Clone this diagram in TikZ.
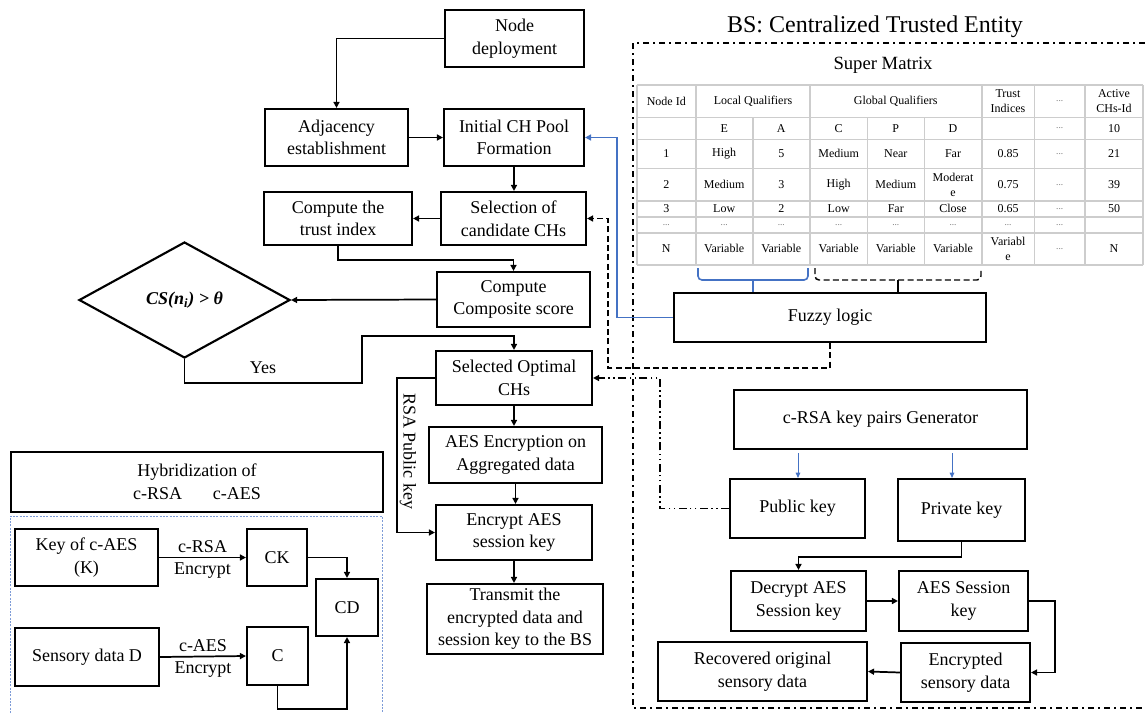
\documentclass[tikz,border=0pt]{standalone}
\usepackage{fontspec}
\setmainfont{Liberation Serif}
\usetikzlibrary{arrows.meta,shapes.geometric}
\definecolor{FlowInk}{gray}{0}
\definecolor{FlowBlue}{RGB}{68,114,196}
\definecolor{FlowDotted}{RGB}{125,155,215}
\definecolor{FlowGrid}{RGB}{205,205,205}
\definecolor{FlowDots}{gray}{0.45}
\newcommand{\celldots}{\textcolor{FlowDots}{\fontsize{7}{8}\selectfont ...}}
\tikzset{
    flow/diagram/.style={
        x=0.75pt, y=-0.75pt,
        font=\fontsize{13.5}{17}\selectfont,
        text=FlowInk,
        >={Triangle[length=4.5pt, width=4.5pt]}
    },
    flow/box/.style={draw=FlowInk, line width=1.6pt, align=center, inner sep=1pt},
    flow/size/.style 2 args={minimum width=#1*0.75pt, minimum height=#2*0.75pt},
    flow/arrow/.style={draw=FlowInk, line width=1.3pt, ->},
    flow/dashed/.style={
        draw=FlowInk, line width=1.1pt,
        dash pattern=on 4.5pt off 2.5pt, ->
    },
    flow/dashdot/.style={
        draw=FlowInk, line width=1.2pt,
        dash pattern=on 6pt off 2.5pt on 1.2pt off 2.5pt on 1.2pt off 2.5pt, ->
    },
    flow/blue/.style={draw=FlowBlue, line width=1.3pt, ->},
    flow/bluethin/.style={
        draw=FlowBlue, line width=0.7pt,
        -{Triangle[length=4pt, width=3.5pt]}
    },
    flow/frame/.style={
        draw=FlowInk, line width=1.5pt,
        dash pattern=on 4.5pt off 3pt on 1.5pt off 3pt
    },
    flow/dotted/.style={draw=FlowDotted, line width=0.7pt, dash pattern=on 1.5pt off 1pt},
    flow/grid/.style={draw=FlowGrid, line width=1.2pt},
    flow/cell/.style={font=\fontsize{9}{11}\selectfont, align=center, inner sep=0pt},
    flow/label/.style={inner sep=2pt}
}

\begin{document}
\begin{tikzpicture}[flow/diagram]
    \useasboundingbox (0,0) rectangle (1145,714);
    % Clustering flow, left column.
    \node[flow/box, flow/size={139}{57}] (deploy) at (514.5,38.5) {Node\\deployment};
    \node[flow/box, flow/size={143}{57}] (adjacency) at (336.5,137.5) {Adjacency\\establishment};
    \node[flow/box, flow/size={140}{57}] (initpool) at (514,137.5) {Initial CH Pool\\Formation};
    \node[flow/box, flow/size={148}{53}] (trustidx) at (338,218.5) {Compute the\\trust index};
    \node[flow/box, flow/size={145}{53}] (candidate) at (513.5,218.5) {Selection of\\candidate CHs};
    \node[flow/box, flow/size={153}{55}] (composite) at (513.5,299.5) {Compute\\Composite score};
    \node[flow/box, diamond, aspect=1.8, inner sep=0pt, flow/size={211}{116}] (decision)
        at (184.5,300) {\bfseries\itshape CS(n\textsubscript{i}) > θ};
    \node[flow/box, flow/size={156}{54}] (selected) at (514,378) {Selected Optimal\\CHs};
    \node[flow/box, flow/size={173}{56}] (aesenc) at (515.5,455) {AES Encryption on\\Aggregated data};
    \node[flow/box, flow/size={156}{55}] (encaes) at (514,532.5) {Encrypt AES\\session key};
    \node[flow/box, flow/size={176}{70}] (transmit) at (515,619)
        {Transmit the\\encrypted data and\\session key to the BS};

    \draw[flow/arrow] (deploy.west) -| (adjacency.north);
    \draw[flow/arrow] (adjacency.east) -- (initpool.west);
    \draw[flow/arrow] (initpool.south) -- (initpool.south |- candidate.north);
    \draw[flow/arrow] (candidate.west) -- (trustidx.east);
    \draw[flow/arrow] (trustidx.south) -- ++(0,14) -| (composite.north);
    \draw[flow/arrow] (composite.west) -- (decision.east);
    \coordinate (yesa) at (362,383);
    \coordinate (yesb) at (362,336);
    \draw[flow/arrow] (decision.south) |- (yesa) -- (yesb) -| (selected.north);
    \node[flow/label] (yeslabel) at (263,368) {Yes};
    \draw[flow/arrow] (selected.south) -- (selected.south |- aesenc.north);
    \draw[flow/arrow] (aesenc.south) -- (aesenc.south |- encaes.north);
    \draw[flow/arrow] (encaes.south) -- (encaes.south |- transmit.north);
    \draw[flow/arrow] (selected.west) -- ++(-38,0) |- (encaes.west);
    \node[flow/label, rotate=-90] (rsalabel) at (408,451) {RSA Public key};

    % Hybrid c-RSA / c-AES scheme.
    \node[flow/box, flow/size={372}{60}] (hybrid) at (197,482)
        {Hybridization of\\c-RSA\hspace{23pt}c-AES};
    \draw[flow/dotted] (10,713) -- (10,516) -- (382,516) -- (382,713);
    \node[flow/box, flow/size={143}{57}] (keyaes) at (86.5,557.5) {Key of c-AES\\(K)};
    \node[flow/box, flow/size={60}{57}] (ck) at (277,557.5) {CK};
    \node[flow/box, flow/size={62}{57}] (cd) at (347,607.5) {CD};
    \node[flow/box, flow/size={144}{58}] (sensd) at (87,657) {Sensory data D};
    \node[flow/box, flow/size={61}{58}] (cbox) at (277.5,656) {C};
    \draw[flow/arrow] (keyaes.east) -- node[above] (rsaenc) {c-RSA}
        node[below] (rsaenclow) {Encrypt} (ck.west);
    \draw[flow/arrow] (sensd.east) -- node[above] (aesenc2) {c-AES}
        node[below] (aesenclow) {Encrypt} (cbox.west);
    \draw[flow/arrow] (ck.east) -| (cd.north);
    \draw[flow/arrow] (cbox.south) -- ++(0,23) -| (cd.south);

    % Base station side.
    \node (bstitle) at (875,27) {\fontsize{18}{20}\selectfont BS: Centralized Trusted Entity};
    \draw[flow/frame] (1145,43) -- (633,43) -- (633,708) -- (1145,708);
    \node (smtitle) at (883,65) {\fontsize{14}{16}\selectfont Super Matrix};
    \foreach \gy in {85,117.3,139.3,168.3,201,216.7,232.7,265}
        \draw[flow/grid] (637,\gy) -- (1143,\gy);
    \foreach \gx in {637,695.7,810,981.7,1034.3,1085,1143}
        \draw[flow/grid] (\gx,85) -- (\gx,265);
    \foreach \gx in {752.7,867.3,924.3}
        \draw[flow/grid] (\gx,117.3) -- (\gx,265);
    \node[flow/cell] (sm-h1) at (666.3,101) {Node Id};
    \node[flow/cell] (sm-h2) at (753,101) {Local Qualifiers};
    \node[flow/cell] (sm-h3) at (895.8,101) {Global Qualifiers};
    \node[flow/cell] (sm-h4) at (1008,101) {Trust\\Indices};
    \node[flow/cell] (sm-h5) at (1059.7,101) {\celldots};
    \node[flow/cell] (sm-h6) at (1114,101) {Active\\CHs-Id};
    \foreach \cx/\txt [count=\c] in {724.2/E, 781.3/A, 838.7/C, 895.8/P, 953/D,
            1059.7/\celldots, 1114/10}
        \node[flow/cell] (sm-r2-\c) at (\cx,128.2) {\txt};
    \foreach \cx/\txt [count=\c] in {666.3/1, 724.2/High, 781.3/5, 838.7/Medium,
            895.8/Near, 953/Far, 1008/0.85, 1059.7/\celldots, 1114/21}
        \node[flow/cell] (sm-r3-\c) at (\cx,153.8) {\txt};
    \foreach \cx/\txt [count=\c] in {666.3/2, 724.2/Medium, 781.3/3, 838.7/High,
            895.8/Medium, 953/{Moderat\\e}, 1008/0.75, 1059.7/\celldots, 1114/39}
        \node[flow/cell] (sm-r4-\c) at (\cx,184.7) {\txt};
    \foreach \cx/\txt [count=\c] in {666.3/3, 724.2/Low, 781.3/2, 838.7/Low,
            895.8/Far, 953/Close, 1008/0.65, 1059.7/\celldots, 1114/50}
        \node[flow/cell] (sm-r5-\c) at (\cx,208.8) {\txt};
    \foreach \cx [count=\c] in {666.3,724.2,781.3,838.7,895.8,953,1008,1059.7}
        \node[flow/cell] (sm-r6-\c) at (\cx,224.7) {\celldots};
    \foreach \cx/\txt [count=\c] in {666.3/N, 724.2/Variable, 781.3/Variable,
            838.7/Variable, 895.8/Variable, 953/Variable, 1008/{Variabl\\e},
            1059.7/\celldots, 1114/N}
        \node[flow/cell] (sm-r7-\c) at (\cx,248.8) {\txt};

    % Qualifier brackets feeding the fuzzy stage.
    \node[flow/box, flow/size={312}{49}] (fuzzy) at (830,317.5) {Fuzzy logic};
    \coordinate (localtap) at (753,280);
    \coordinate (globaltap) at (898,280);
    \draw[draw=FlowBlue, line width=1.2pt, rounded corners=3pt]
        (698,268) -- (698,280) -- (808,280) -- (808,268);
    \draw[draw=FlowBlue, line width=1.2pt] (localtap) -- (localtap |- fuzzy.north);
    \draw[draw=FlowInk, line width=1.1pt, dash pattern=on 4.5pt off 2.5pt, rounded corners=3pt]
        (815,268) -- (815,280) -- (981,280) -- (981,268);
    \draw[draw=FlowInk, line width=1.1pt] (globaltap) -- (globaltap |- fuzzy.north);
    \draw[flow/blue] (fuzzy.west) -- ++(-56,0) |- (initpool.east);
    \coordinate (fuzzyturn) at (608,368);
    \draw[flow/dashed] (fuzzy.south) |- (fuzzyturn) |- (candidate.east);

    % Key handling at the BS.
    \node[flow/box, flow/size={293}{59}] (generator) at (880.5,419.5) {c-RSA key pairs Generator};
    \node[flow/box, flow/size={135}{59}] (pubkey) at (797.5,508.5) {Public key};
    \node[flow/box, flow/size={127}{62}] (privkey) at (961.5,510) {Private key};
    \node[flow/box, flow/size={135}{60}] (decrypt) at (798.5,601) {Decrypt AES\\Session key};
    \node[flow/box, flow/size={129}{60}] (sesskey) at (963.5,601) {AES Session\\key};
    \node[flow/box, flow/size={129}{59}] (encsens) at (965.5,672.5) {Encrypted\\sensory data};
    \node[flow/box, flow/size={209}{59}] (recovered) at (762.5,671.5)
        {Recovered original\\sensory data};
    \coordinate (pubtap) at (798,453);
    \coordinate (privtap) at (952,453);
    \draw[flow/bluethin] (pubtap) -- (pubtap |- pubkey.north);
    \draw[flow/bluethin] (privtap) -- (privtap |- privkey.north);
    \draw[flow/dashdot] (pubkey.west) -- ++(-69,0) |- (selected.east);
    \draw[flow/arrow] (privkey.south) -- ++(0,15) -| (decrypt.north);
    \draw[flow/arrow] (decrypt.east) -- (sesskey.west);
    \draw[flow/arrow] (sesskey.east) -- ++(26,0) |- (encsens.east);
    \draw[flow/arrow] (encsens.west) -- (recovered.east);
\end{tikzpicture}
\end{document}
